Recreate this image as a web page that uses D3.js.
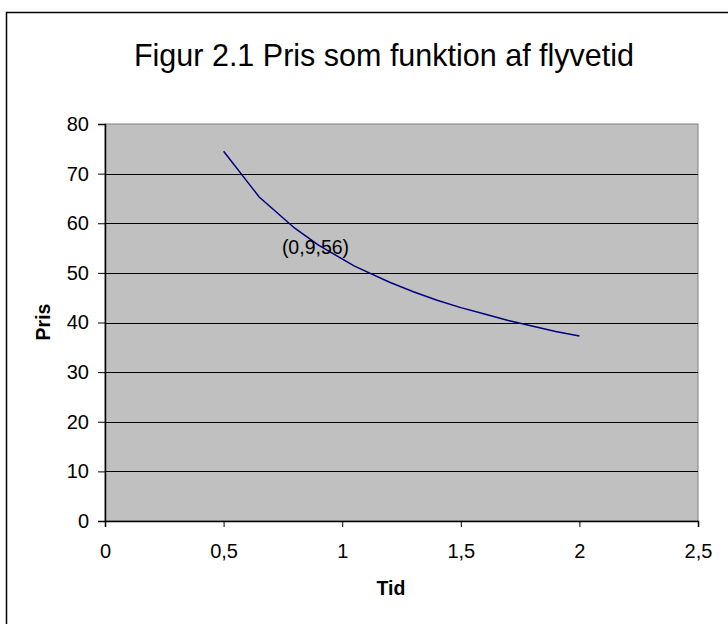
<!DOCTYPE html>
<html><head><meta charset="utf-8">
<script src="https://cdn.jsdelivr.net/npm/d3@7"></script>
<style>body{margin:0;background:#fff}svg{display:block}text{font-family:"Liberation Sans",Arial,sans-serif}</style>
</head><body>
<svg id="c" width="728" height="624"></svg>
<script>
const tid = [0.5, 0.65, 0.8, 0.9, 1.05, 1.1, 1.2, 1.3, 1.4, 1.5, 1.6, 1.7, 1.8, 1.9, 2.0];
const pris = [74.5, 65.3, 59.0, 55.6, 51.4, 50.3, 48.1, 46.2, 44.5, 43.0, 41.7, 40.4, 39.3, 38.2, 37.3];
const xTicks = [0, 0.5, 1, 1.5, 2, 2.5];
const yTicks = [0, 10, 20, 30, 40, 50, 60, 70, 80];
const title = "Figur 2.1 Pris som funktion af flyvetid";
const annotation = {x: 0.9, y: 56, text: "(0,9,56)"};

const svg = d3.select("#c");
svg.append("rect").attr("x",6.5).attr("y",12.5).attr("width",760).attr("height",660)
  .attr("fill","#fff").attr("stroke","#000").attr("stroke-width",1.5);

const L=105, R=698, T=124, B=521;
const x = d3.scaleLinear().domain([0,2.5]).range([L,R]);
const y = d3.scaleLinear().domain([0,80]).range([B,T]);

svg.append("rect").attr("x",L).attr("y",T).attr("width",R-L).attr("height",B-T)
  .attr("fill","#c0c0c0").attr("stroke","#808080").attr("stroke-width",1);

svg.append("g").selectAll("line").data(yTicks.filter(d=>d>0&&d<80)).join("line")
  .attr("x1",L).attr("x2",R).attr("y1",d=>Math.round(y(d))+0.5).attr("y2",d=>Math.round(y(d))+0.5)
  .attr("stroke","#000").attr("stroke-width",1);

const fmt = d => String(d).replace(".", ",");
const yAxis = svg.append("g").attr("transform",`translate(${L},0)`)
  .call(d3.axisLeft(y).tickValues(yTicks).tickSize(7).tickPadding(9).tickFormat(fmt));
const xAxis = svg.append("g").attr("transform",`translate(0,${B})`)
  .call(d3.axisBottom(x).tickValues(xTicks).tickSize(6).tickPadding(17).tickFormat(fmt));
[yAxis,xAxis].forEach(a=>{
  a.attr("font-size",20).attr("font-family","Liberation Sans, Arial, sans-serif");
  a.selectAll("text").attr("fill","#000");
  a.selectAll("line").attr("stroke","#000");
  a.select(".domain").attr("stroke","#000").attr("stroke-width",1.5);
});

svg.append("path").datum(tid.map((t,i)=>[t,pris[i]]))
  .attr("fill","none").attr("stroke","#000080").attr("stroke-width",1.5)
  .attr("d", d3.line().x(d=>x(d[0])).y(d=>y(d[1])));

svg.append("text").attr("x",x(annotation.x)-3).attr("y",y(annotation.y)+11)
  .attr("text-anchor","middle").attr("font-size",19.5).text(annotation.text);

svg.append("text").attr("x",384).attr("y",66).attr("text-anchor","middle")
  .attr("font-size",30.5).text(title);
svg.append("text").attr("x",391).attr("y",595).attr("text-anchor","middle")
  .attr("font-size",19.5).attr("font-weight","bold").text("Tid");
svg.append("text").attr("transform","translate(50,322) rotate(-90)").attr("text-anchor","middle")
  .attr("font-size",19.5).attr("font-weight","bold").text("Pris");
</script>
</body></html>
